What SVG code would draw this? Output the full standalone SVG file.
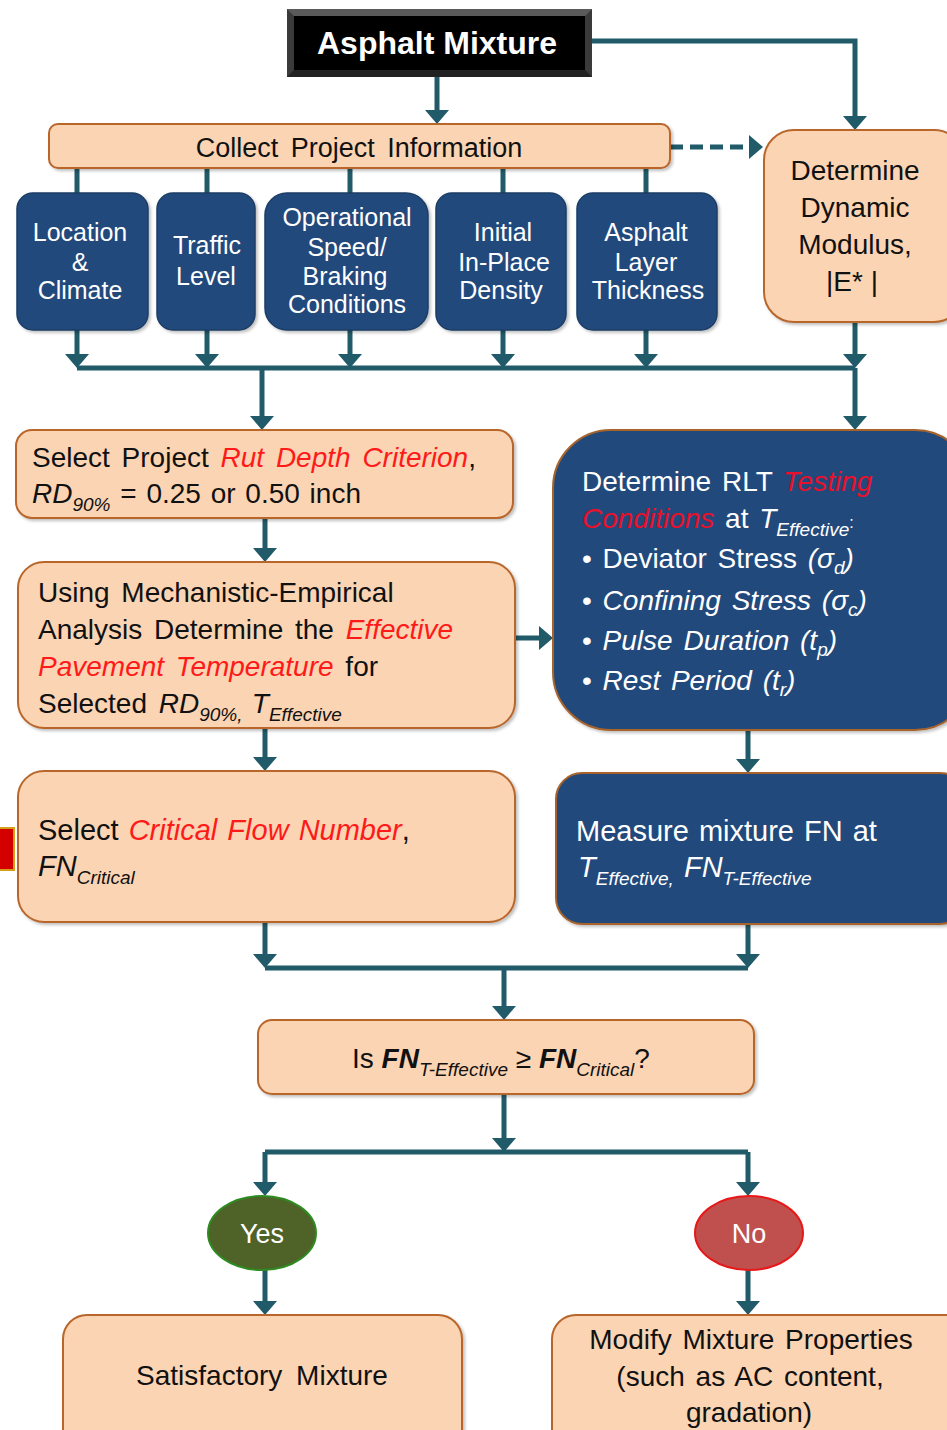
<svg xmlns="http://www.w3.org/2000/svg" width="947" height="1430" viewBox="0 0 947 1430">
<style>
text{font-family:"Liberation Sans",Arial,sans-serif;font-size:28px}
.peach{fill:#FBD4B3;stroke:#B8662C;stroke-width:2}
.blue{fill:#224A7C;stroke:#1C3D66;stroke-width:1.5}
.bluebig{fill:#224A7C;stroke:#A8642C;stroke-width:2}
.conn{fill:none;stroke:#215A68;stroke-width:5}
.w{fill:#FFFFFF}
.k{fill:#111111}
.r{fill:#FF1A1A;font-style:italic}
.i{font-style:italic}
.c{text-anchor:middle}
.sub{font-size:19px;font-style:italic}
.sm{font-size:25px}
</style>
<defs>
<marker id="ah" markerUnits="userSpaceOnUse" markerWidth="14" markerHeight="24" viewBox="0 0 14 24" refX="9" refY="12" orient="auto">
<path d="M0,0 L14,12 L0,24 z" fill="#215A68"/>
</marker>
<filter id="sh" x="-5%" y="-5%" width="115%" height="120%">
<feDropShadow dx="2" dy="2" stdDeviation="1.5" flood-color="#000" flood-opacity="0.25"/>
</filter>
</defs>

<g id="connectors">
<path class="conn" d="M437,77 V119" marker-end="url(#ah)"/>
<path class="conn" d="M592,41 H855 V125" marker-end="url(#ah)"/>
<path class="conn" d="M670,147 H758" stroke-dasharray="13,7" marker-end="url(#ah)"/>
<path class="conn" d="M77,168 V193 M207,168 V193 M350,168 V193 M503,168 V193 M646,168 V193"/>
<path class="conn" d="M77,330 V363" marker-end="url(#ah)"/>
<path class="conn" d="M207,330 V363" marker-end="url(#ah)"/>
<path class="conn" d="M350,330 V363" marker-end="url(#ah)"/>
<path class="conn" d="M503,330 V363" marker-end="url(#ah)"/>
<path class="conn" d="M646,330 V363" marker-end="url(#ah)"/>
<path class="conn" d="M855,322 V363" marker-end="url(#ah)"/>
<path class="conn" d="M77,368 H855"/>
<path class="conn" d="M262,368 V425" marker-end="url(#ah)"/>
<path class="conn" d="M855,368 V425" marker-end="url(#ah)"/>
<path class="conn" d="M265,518 V557" marker-end="url(#ah)"/>
<path class="conn" d="M515,638 H548" marker-end="url(#ah)"/>
<path class="conn" d="M265,728 V766" marker-end="url(#ah)"/>
<path class="conn" d="M748,730 V768" marker-end="url(#ah)"/>
<path class="conn" d="M265,922 V963" marker-end="url(#ah)"/>
<path class="conn" d="M748,924 V963" marker-end="url(#ah)"/>
<path class="conn" d="M265,968 H748"/>
<path class="conn" d="M504,968 V1015" marker-end="url(#ah)"/>
<path class="conn" d="M504,1094 V1147" marker-end="url(#ah)"/>
<path class="conn" d="M265,1152 H748"/>
<path class="conn" d="M265,1152 V1191" marker-end="url(#ah)"/>
<path class="conn" d="M748,1152 V1191" marker-end="url(#ah)"/>
<path class="conn" d="M265,1270 V1310" marker-end="url(#ah)"/>
<path class="conn" d="M748,1270 V1310" marker-end="url(#ah)"/>
</g>

<g id="asphalt-mixture">
<rect x="287" y="9" width="305" height="68" fill="#3A3A3A"/>
<polygon points="287,9 592,9 585,16 294,16" fill="#5A5A5A"/>
<polygon points="287,77 592,77 585,70 294,70" fill="#222"/>
<rect x="294" y="16" width="291" height="54" fill="#000"/>
<text x="437" y="54" class="w c" style="font-weight:bold;font-size:32px">Asphalt Mixture</text>
</g>

<g id="collect-info">
<rect x="49" y="124" width="621" height="44" rx="9" class="peach" filter="url(#sh)"/>
<text x="359" y="157" class="k c" style="font-size:27px;word-spacing:5px">Collect Project Information</text>
</g>

<g id="dynamic-modulus">
<rect x="764" y="130" width="200" height="192" rx="30" class="peach" filter="url(#sh)"/>
<text class="k c"><tspan x="855" y="180">Determine</tspan><tspan x="855" y="217">Dynamic</tspan><tspan x="855" y="254">Modulus,</tspan><tspan x="852" y="291">|E* |</tspan></text>
</g>

<g id="location-climate">
<rect x="17" y="193" width="131" height="137" rx="16" class="blue" filter="url(#sh)"/>
<text class="w c sm"><tspan x="80" y="241">Location</tspan><tspan x="80" y="271">&amp;</tspan><tspan x="80" y="299">Climate</tspan></text>
</g>
<g id="traffic-level">
<rect x="157" y="193" width="98" height="137" rx="16" class="blue" filter="url(#sh)"/>
<text class="w c sm"><tspan x="207" y="254">Traffic</tspan><tspan x="206" y="285">Level</tspan></text>
</g>
<g id="operational-speed">
<rect x="265" y="193" width="163" height="137" rx="22" class="blue" filter="url(#sh)"/>
<text class="w c sm"><tspan x="347" y="226">Operational</tspan><tspan x="347" y="256">Speed/</tspan><tspan x="345" y="285">Braking</tspan><tspan x="347" y="313">Conditions</tspan></text>
</g>
<g id="initial-density">
<rect x="436" y="193" width="130" height="137" rx="16" class="blue" filter="url(#sh)"/>
<text class="w c sm"><tspan x="503" y="241">Initial</tspan><tspan x="504" y="271">In-Place</tspan><tspan x="501" y="299">Density</tspan></text>
</g>
<g id="layer-thickness">
<rect x="577" y="193" width="140" height="137" rx="16" class="blue" filter="url(#sh)"/>
<text class="w c sm"><tspan x="646" y="241">Asphalt</tspan><tspan x="646" y="271">Layer</tspan><tspan x="648" y="299">Thickness</tspan></text>
</g>

<g id="rut-depth">
<rect x="16" y="430" width="497" height="88" rx="16" class="peach" filter="url(#sh)"/>
<text class="k" style="word-spacing:4px"><tspan x="32" y="467">Select Project <tspan class="r">Rut Depth Criterion</tspan>,</tspan><tspan x="32" y="503" class="i">RD</tspan><tspan class="sub" dy="8">90%</tspan><tspan dy="-8" style="word-spacing:2px"> = 0.25 or 0.50 inch</tspan></text>
</g>

<g id="effective-temperature">
<rect x="18" y="562" width="497" height="166" rx="26" class="peach" filter="url(#sh)"/>
<text class="k" style="word-spacing:4px"><tspan x="38" y="602">Using Mechanistic-Empirical</tspan><tspan x="38" y="639">Analysis Determine the <tspan class="r">Effective</tspan></tspan><tspan x="38" y="676"><tspan class="r">Pavement Temperature</tspan> for</tspan><tspan x="38" y="713">Selected </tspan><tspan class="i">RD</tspan><tspan class="sub" dy="8">90%, </tspan><tspan class="i" dy="-8">T</tspan><tspan class="sub" dy="8">Effective</tspan></text>
</g>

<g id="rlt-testing">
<rect x="553" y="430" width="420" height="300" rx="58" class="bluebig" filter="url(#sh)"/>
<text class="w" style="font-size:28px;word-spacing:3px"><tspan x="582" y="491">Determine RLT <tspan style="fill:#E8102A;font-style:italic">Testing</tspan></tspan><tspan x="582" y="528" style="fill:#E8102A;font-style:italic">Conditions</tspan><tspan> at </tspan><tspan class="i">T</tspan><tspan class="sub" dy="8">Effective</tspan><tspan dy="-8" style="font-size:16px">:</tspan><tspan x="582" y="568">• Deviator Stress </tspan><tspan class="i">(σ</tspan><tspan class="sub" dy="6">d</tspan><tspan class="i" dy="-6">)</tspan><tspan x="582" y="610">• <tspan class="i">Confining Stress (σ</tspan></tspan><tspan class="sub" dy="6">c</tspan><tspan class="i" dy="-6">)</tspan><tspan x="582" y="650">• <tspan class="i">Pulse Duration (t</tspan></tspan><tspan class="sub" dy="6">p</tspan><tspan class="i" dy="-6">)</tspan><tspan x="582" y="690">• <tspan class="i">Rest Period (t</tspan></tspan><tspan class="sub" dy="6">r</tspan><tspan class="i" dy="-6">)</tspan></text>
</g>

<g id="critical-flow">
<rect x="18" y="771" width="497" height="151" rx="26" class="peach" filter="url(#sh)"/>
<text class="k" style="font-size:29px;word-spacing:2px"><tspan x="38" y="840">Select <tspan class="r">Critical Flow Number</tspan>,</tspan><tspan x="38" y="876" class="i">FN</tspan><tspan class="sub" dy="8">Critical</tspan></text>
</g>
<g id="red-marker">
<rect x="-6" y="828" width="20" height="42" fill="#D40000" stroke="#D4A017" stroke-width="2"/>
</g>

<g id="measure-fn">
<rect x="556" y="773" width="410" height="151" rx="26" class="bluebig" filter="url(#sh)"/>
<text class="w" style="font-size:29px;word-spacing:2px"><tspan x="576" y="841">Measure mixture FN at</tspan><tspan x="578" y="877" class="i">T</tspan><tspan class="sub" dy="8">Effective,</tspan><tspan class="i" dy="-8"> FN</tspan><tspan class="sub" dy="8">T-Effective</tspan></text>
</g>

<g id="decision">
<rect x="258" y="1020" width="496" height="74" rx="14" class="peach" filter="url(#sh)"/>
<text class="k" style="font-size:28px"><tspan x="352" y="1068">Is </tspan><tspan style="font-weight:bold;font-style:italic">FN</tspan><tspan class="sub" dy="8">T-Effective</tspan><tspan dy="-8"> ≥ </tspan><tspan style="font-weight:bold;font-style:italic">FN</tspan><tspan class="sub" dy="8">Critical</tspan><tspan dy="-8">?</tspan></text>
</g>

<g id="yes">
<ellipse cx="262" cy="1233" rx="54" ry="37" fill="#4F6228" stroke="#2E8B22" stroke-width="2"/>
<text x="262" y="1243" class="w c" style="font-size:27px">Yes</text>
</g>
<g id="no">
<ellipse cx="749" cy="1233" rx="54" ry="37" fill="#C0504D" stroke="#E81818" stroke-width="2"/>
<text x="749" y="1243" class="w c" style="font-size:27px">No</text>
</g>

<g id="satisfactory">
<rect x="63" y="1315" width="399" height="140" rx="24" class="peach" filter="url(#sh)"/>
<text x="262" y="1385" class="k c" style="word-spacing:6px">Satisfactory Mixture</text>
</g>
<g id="modify">
<rect x="552" y="1315" width="420" height="140" rx="24" class="peach" filter="url(#sh)"/>
<text class="k c" style="word-spacing:3px"><tspan x="751" y="1349">Modify Mixture Properties</tspan><tspan x="750" y="1386">(such as AC content,</tspan><tspan x="749" y="1422">gradation)</tspan></text>
</g>
</svg>
